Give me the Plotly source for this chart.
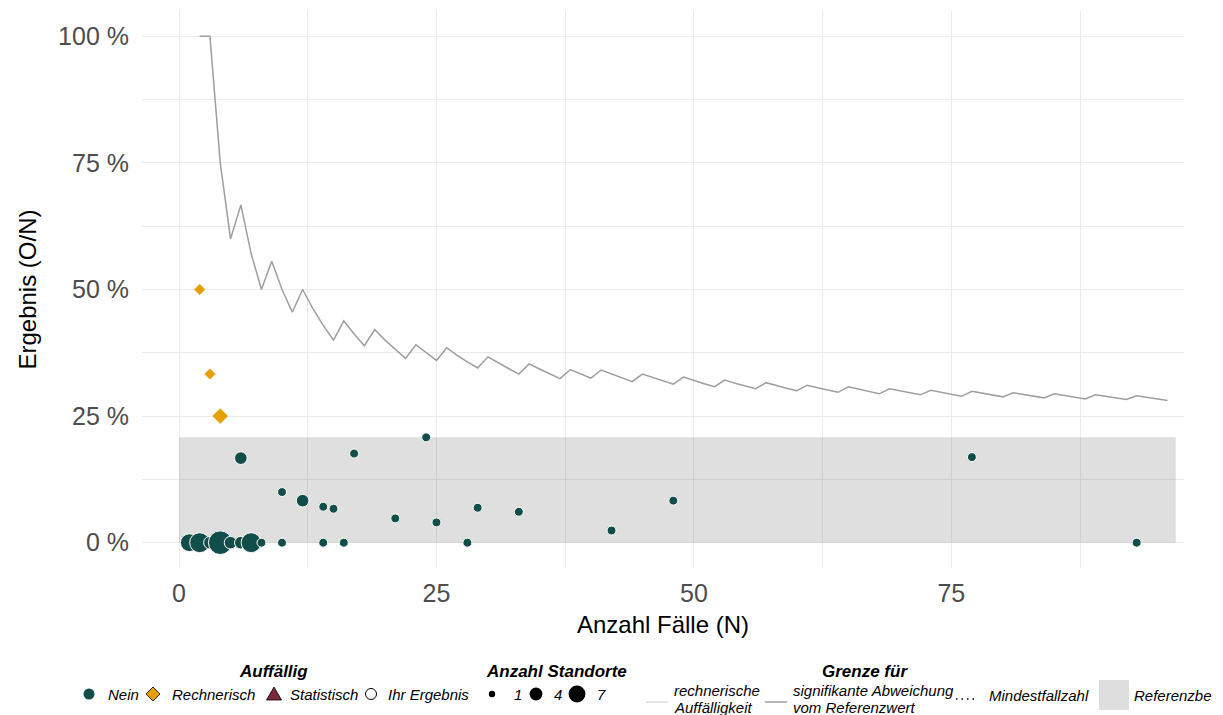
import plotly.graph_objects as go

# ---------------- data ----------------
nein_n = [1, 2, 3, 4, 5, 6, 7, 8, 10, 14, 16, 28, 93,
          6, 10, 12, 14, 15, 17, 21, 24, 25, 29, 33, 42, 48, 77]
nein_pct = [0, 0, 0, 0, 0, 0, 0, 0, 0, 0, 0, 0, 0,
            16.7, 10.0, 8.3, 7.1, 6.7, 17.6, 4.8, 20.8, 4.0, 6.9, 6.1, 2.4, 8.3, 16.9]
nein_standorte = [4, 5, 2, 7, 2, 2, 5, 1, 1, 1, 1, 1, 1,
                  2, 1, 2, 1, 1, 1, 1, 1, 1, 1, 1, 1, 1, 1]

rech_n = [2, 3, 4]
rech_pct = [50.0, 33.3, 25.0]
rech_standorte = [1, 1, 2]

grenze_n = [2, 3, 4, 5, 6, 7, 8, 9, 10, 11, 12, 13, 14, 15, 16, 17, 18, 19, 20,
            21, 22, 23, 24, 25, 26, 27, 28, 29, 30, 31, 32, 33, 34, 35, 36, 37, 38,
            39, 40, 41, 42, 43, 44, 45, 46, 47, 48, 49, 50, 51, 52, 53, 54, 55, 56,
            57, 58, 59, 60, 61, 62, 63, 64, 65, 66, 67, 68, 69, 70, 71, 72, 73, 74,
            75, 76, 77, 78, 79, 80, 81, 82, 83, 84, 85, 86, 87, 88, 89, 90, 91, 92,
            93, 94, 95, 96]
grenze_pct = [100, 100, 75.0, 60.0, 66.7, 57.1, 50.0, 55.6, 50.0, 45.5, 50.0, 46.2,
              42.9, 40.0, 43.8, 41.2, 38.9, 42.1, 40.0, 38.1, 36.4, 39.1, 37.5, 36.0,
              38.5, 37.0, 35.7, 34.5, 36.7, 35.5, 34.4, 33.3, 35.3, 34.3, 33.3, 32.4,
              34.2, 33.3, 32.5, 34.1, 33.3, 32.6, 31.8, 33.3, 32.6, 31.9, 31.3, 32.7,
              32.0, 31.4, 30.8, 32.1, 31.5, 30.9, 30.4, 31.6, 31.0, 30.5, 30.0, 31.1,
              30.6, 30.2, 29.7, 30.8, 30.3, 29.9, 29.4, 30.4, 30.0, 29.6, 29.2, 30.1,
              29.7, 29.3, 28.9, 29.9, 29.5, 29.1, 28.8, 29.6, 29.3, 28.9, 28.6, 29.4,
              29.1, 28.7, 28.4, 29.2, 28.9, 28.6, 28.3, 29.0, 28.7, 28.4, 28.1]

ref_x = [0, 96.8]
ref_y = [0, 20.8]

x_ticks = [0, 25, 50, 75]
y_ticks = [0, 25, 50, 75, 100]

# ---------------- style ----------------
FONT = "Liberation Sans"
C_NEIN = "#124e49"
C_RECH = "#e69f00"
C_STAT = "#7b2a3b"
C_LINE = "#9e9e9e"
C_GRID = "#ebebeb"
SIZEREF = 0.025
SIZEREF_DIAMOND = 0.03

W, H = 1223, 715
ML, MR, MT, MB = 142, 39, 11, 147
PW = W - ML - MR
PH = H - MT - MB


def px(x):
    return (x - ML) / PW


def py(y):
    return 1 - (y - MT) / PH


fig = go.Figure()

fig.add_trace(go.Scatter(
    x=grenze_n, y=grenze_pct, mode="lines",
    line=dict(color=C_LINE, width=1.5), hoverinfo="skip", showlegend=False))

fig.add_trace(go.Scatter(
    x=nein_n, y=nein_pct, mode="markers",
    marker=dict(symbol="circle", size=nein_standorte, sizemode="area", sizeref=SIZEREF,
                color=C_NEIN, opacity=1, line=dict(color="white", width=1)),
    showlegend=False, cliponaxis=False))

fig.add_trace(go.Scatter(
    x=rech_n, y=rech_pct, mode="markers",
    marker=dict(symbol="diamond", size=rech_standorte, sizemode="area",
                sizeref=SIZEREF_DIAMOND,
                color=C_RECH, opacity=1, line=dict(color=C_RECH, width=0.5)),
    showlegend=False, cliponaxis=False))

shapes = [dict(type="rect", xref="x", yref="y", x0=ref_x[0], x1=ref_x[1],
               y0=ref_y[0], y1=ref_y[1], layer="between",
               fillcolor="rgba(0,0,0,0.125)", line=dict(width=0))]

annotations = []


def ptext(x, y, text, size=15, bold=False, anchor="left"):
    t = f"<i>{text}</i>"
    if bold:
        t = f"<b>{t}</b>"
    annotations.append(dict(xref="paper", yref="paper", x=px(x), y=py(y), text=t,
                            showarrow=False, xanchor=anchor, yanchor="middle",
                            align="left", font=dict(family=FONT, size=size, color="black")))


def pshape(cx, cy, **kw):
    d = dict(xref="paper", yref="paper", xsizemode="pixel", ysizemode="pixel",
             xanchor=px(cx), yanchor=py(cy))
    d.update(kw)
    shapes.append(d)


def pcircle(cx, cy, r, fill, line="rgba(0,0,0,0)", lw=0):
    pshape(cx, cy, type="circle", x0=-r, x1=r, y0=-r, y1=r, fillcolor=fill,
           line=dict(color=line, width=lw))


ROW = 694
TITLE_Y = 671

# group 1: Auffällig
ptext(273, TITLE_Y, "Auffällig", size=17, bold=True, anchor="center")
pcircle(89, ROW, 5.5, C_NEIN)
ptext(106, ROW, "Nein")
pshape(153, ROW, type="path", path="M 0 7 L 7 0 L 0 -7 L -7 0 Z", fillcolor=C_RECH,
       line=dict(color="black", width=0.8))
ptext(170, ROW, "Rechnerisch")
pshape(274, ROW, type="path", path="M -7.5 -6 L 7.5 -6 L 0 7 Z", fillcolor=C_STAT,
       line=dict(color="black", width=0.8))
ptext(288, ROW, "Statistisch")
pcircle(371, ROW, 5.5, "white", "black", 1)
ptext(386, ROW, "Ihr Ergebnis")

# group 2: Anzahl Standorte
ptext(556, TITLE_Y, "Anzahl Standorte", size=17, bold=True, anchor="center")
pcircle(492, ROW, 3.2, "black")
ptext(512, ROW, "1")
pcircle(536, ROW, 6.4, "black")
ptext(552, ROW, "4")
pcircle(577, ROW, 8.4, "black")
ptext(595, ROW, "7")

# group 3: Grenze für
ptext(865, TITLE_Y, "Grenze für", size=17, bold=True, anchor="center")
pshape(657, 702, type="line", x0=-11, x1=11, y0=0, y1=0, line=dict(color="#dcdcdc", width=1.5))
ptext(672, 690, "rechnerische")
ptext(672, 707, "Auffälligkeit")
pshape(776, 702, type="line", x0=-11, x1=11, y0=0, y1=0, line=dict(color=C_LINE, width=1.5))
ptext(791, 690, "signifikante Abweichung")
ptext(791, 707, "vom Referenzwert")
pshape(966, 699, type="line", x0=-10, x1=11, y0=0, y1=0,
       line=dict(color="black", width=1.6, dash="1.5px,4px"))
ptext(987, 695, "Mindestfallzahl")
pshape(1114, 695, type="rect", x0=-15, x1=15, y0=-15, y1=15, fillcolor="#dedede",
       line=dict(width=0))
ptext(1132, 695, "Referenzbe")

fig.update_layout(
    width=W, height=H,
    margin=dict(l=ML, r=MR, t=MT, b=MB, autoexpand=False),
    paper_bgcolor="white", plot_bgcolor="white",
    font=dict(family=FONT, color="#4d4d4d"),
    showlegend=False,
    shapes=shapes, annotations=annotations,
    xaxis=dict(range=[-3.6, 97.6], tickvals=x_ticks, ticktext=[str(v) for v in x_ticks],
               showgrid=True, gridcolor=C_GRID, gridwidth=1.3, zeroline=False,
               showline=False, ticks="outside", ticklen=3, tickcolor="rgba(0,0,0,0)",
               tickfont=dict(family=FONT, size=25, color="#4d4d4d"),
               minor=dict(tickvals=[12.5, 37.5, 62.5, 87.5], showgrid=True,
                          gridcolor=C_GRID, gridwidth=0.8, ticks=""),
               title=dict(text="Anzahl Fälle (N)", standoff=10,
                          font=dict(family=FONT, size=24, color="black")),
               automargin=False),
    yaxis=dict(range=[-5, 105], tickvals=y_ticks, ticktext=[f"{v} %" for v in y_ticks],
               showgrid=True, gridcolor=C_GRID, gridwidth=1.3, zeroline=False,
               showline=False, ticks="outside", ticklen=7, tickcolor="rgba(0,0,0,0)",
               tickfont=dict(family=FONT, size=25, color="#4d4d4d"),
               minor=dict(tickvals=[12.5, 37.5, 62.5, 87.5], showgrid=True,
                          gridcolor=C_GRID, gridwidth=0.8, ticks=""),
               title=dict(text="Ergebnis (O/N)", standoff=14,
                          font=dict(family=FONT, size=24, color="black")),
               automargin=False),
)

fig.write_html("out.html")
